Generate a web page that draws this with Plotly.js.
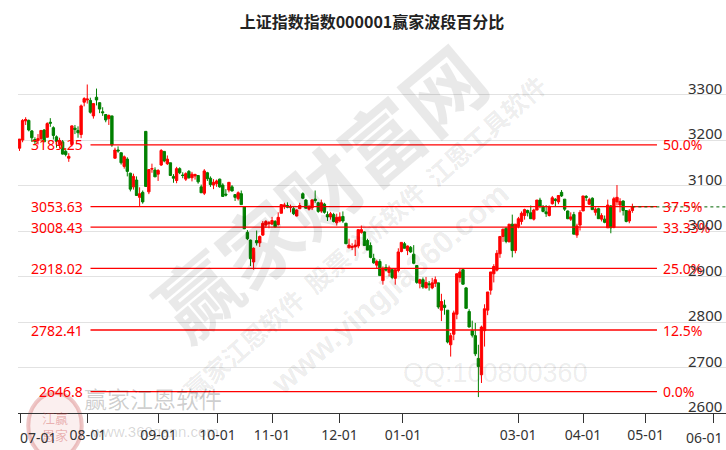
<!DOCTYPE html>
<html>
<head>
<meta charset="utf-8">
<script src="https://cdn.plot.ly/plotly-3.0.1.min.js"></script>
<style>html,body{margin:0;padding:0;background:#fff;overflow:hidden;}#wrap{width:726px;height:450px;overflow:hidden;}#chart{width:740px;height:450px;}</style>
</head>
<body>
<div id="wrap"><div id="chart"></div></div>
<script>
// 上证指数 000001 daily candles (2023-06-30 .. 2024-04-25), one entry per trading day
const openP = [3182,3200,3242,3243,3220,3201,3199,3203,3222,3206,3239,3227,3207,3190,3196,3175,3160,3190,3226,3221,3212,3283,
3288,3287,3253,3294,3282,3262,3256,3247,3253,3160,3178,3172,3142,3158,3127,3097,3112,3074,3085,3219,3086,3136,3134,
3125,3145,3175,3148,3150,3120,3111,3137,3123,3114,3131,3117,3121,3122,3097,3083,3128,3116,3101,3104,
3114,3101,3081,3090,3097,3080,3071,3082,3053,2997,2980,2932,2979,2974,2991,3013,3016,
3015,3021,3014,3039,3055,3056,3052,3049,3033,3049,3082,3068,3048,3051,3070,3062,3044,3059,3036,3031,3036,3018,
3022,3032,3017,2963,2964,2965,2967,2997,2998,2979,2968,2940,2925,2933,2891,2920,2909,2915,2896,2913,2955,
2972,2957,2964,2949,2924,2885,2893,2875,2884,2875,2885,2886,2826,2837,2826,2750,2773,2817,2898,2915,2875,2823,
2781,2770,2720,2684,2781,2826,2870,2906,2914,2950,2988,3006,2976,3015,2957,
3010,3021,3034,3045,3040,3026,3046,3068,3054,3042,3034,3060,3070,3064,3085,3070,3044,3026,3036,2991,3013,
3044,3076,3059,3072,3041,3049,3026,3026,3007,3055,3008,3064,3057,3066,3045,3022,3045];
const highP = [3202,3246,3250,3245,3222,3206,3213,3221,3224,3239,3248,3230,3210,3205,3200,3182,3171,3232,3233,3230,3278,3294,
3322,3293,3281,3313,3283,3272,3257,3256,3253,3183,3186,3172,3166,3162,3128,3126,3120,3096,3089,3219,3135,3148,3140,
3136,3180,3175,3166,3150,3125,3141,3140,3129,3129,3134,3130,3126,3123,3102,3136,3130,3120,3114,3113,
3115,3105,3092,3107,3101,3080,3087,3089,3054,3002,2981,2964,3001,2990,3022,3024,3022,
3031,3024,3041,3059,3062,3063,3058,3053,3048,3062,3085,3070,3057,3070,3089,3064,3069,3062,3043,3042,3040,3038,
3041,3043,3018,2983,2973,2981,3004,3012,2999,2983,2975,2950,2937,2938,2922,2927,2924,2917,2916,2962,2975,
2976,2968,2967,2969,2924,2895,2898,2899,2890,2897,2900,2886,2862,2849,2826,2776,2825,2906,2917,2918,2877,2828,
2803,2798,2750,2792,2839,2866,2910,2927,2958,2988,3005,3009,3015,3036,3015,
3031,3043,3049,3047,3056,3049,3068,3073,3057,3057,3056,3077,3072,3079,3090,3070,3045,3041,3042,3016,3046,
3077,3079,3073,3074,3052,3051,3039,3034,3069,3057,3075,3101,3072,3067,3046,3048,3060];
const lowP = [3176,3195,3233,3219,3196,3189,3190,3198,3196,3206,3229,3201,3183,3182,3168,3164,3152,3186,3213,3205,3204,3274,
3280,3258,3247,3276,3259,3253,3239,3233,3185,3159,3172,3146,3137,3120,3087,3091,3078,3055,3060,3098,3081,3128,3119,
3110,3143,3151,3145,3122,3106,3105,3125,3116,3110,3115,3109,3113,3104,3084,3079,3110,3097,3092,3097,
3095,3075,3076,3085,3087,3066,3067,3058,3004,2980,2923,2915,2968,2965,2989,3007,3006,
3015,3008,3012,3039,3048,3050,3041,3035,3032,3048,3070,3050,3045,3046,3062,3040,3040,3038,3022,3025,3019,3012,
3019,3018,2972,2962,2958,2945,2962,2994,2968,2958,2940,2928,2918,2902,2882,2911,2900,2894,2882,2909,2953,
2962,2947,2952,2927,2884,2874,2873,2874,2869,2872,2877,2829,2802,2816,2753,2724,2760,2806,2887,2882,2830,2788,
2766,2725,2635,2666,2746,2815,2860,2887,2911,2941,2976,2973,2976,2942,2951,
3006,3014,3025,3032,3027,3023,3046,3050,3041,3031,3032,3058,3054,3059,3075,3044,3026,3022,2993,2985,3001,
3044,3066,3057,3046,3034,3027,3021,3017,3007,2995,3006,3056,3041,3034,3019,3017,3040];
const closeP = [3202,3243,3245,3222,3205,3197,3203,3221,3196,3236,3237,3210,3197,3199,3169,3168,3164,3231,3223,3216,3275,3291,
3290,3261,3280,3288,3268,3260,3244,3254,3189,3178,3176,3150,3163,3131,3092,3120,3078,3082,3064,3098,3135,3137,3119,
3133,3177,3154,3158,3122,3116,3137,3128,3122,3126,3117,3125,3124,3108,3084,3132,3115,3102,3107,3110,
3097,3076,3079,3107,3088,3074,3084,3058,3005,2983,2939,2962,2974,2988,3017,3021,3018,
3023,3009,3030,3058,3057,3052,3053,3038,3046,3056,3072,3050,3054,3068,3067,3043,3062,3041,3031,3038,3021,3030,
3031,3022,2972,2969,2966,2969,3003,3003,2968,2958,2942,2930,2933,2902,2918,2914,2919,2898,2915,2954,2975,
2962,2967,2954,2929,2887,2893,2877,2887,2882,2886,2893,2833,2845,2832,2756,2770,2820,2906,2910,2883,2830,2789,
2771,2730,2702,2789,2829,2866,2910,2922,2951,2988,3004,2977,3015,2957,3015,
3027,3039,3047,3040,3027,3046,3068,3055,3043,3038,3054,3073,3067,3078,3077,3048,3027,3031,2993,3011,3041,
3077,3074,3069,3047,3048,3027,3034,3019,3057,3007,3071,3074,3065,3045,3021,3044,3053];

// month tick labels on the trading-day axis
const tickLabels = ['07-01','08-01','09-01','10-01','11-01','12-01','01-01','03-01','04-01','05-01','06-01'];
const tickPos = [0.2,22.2,45.1,64.3,82,103.9,124.5,161.9,183,203.3,225.5];

// wave percentage levels
const fibPrices = [3189.25,3053.63,3008.43,2918.02,2782.41,2646.8];
const fibLabels = ['50.0%','37.5%','33.33%','25.0%','12.5%','0.0%'];

// y axis ticks (gridlines) and the labels shown
const yTicks = [2600,2700,2800,2900,3000,3100,3200,3300,3400];
const yLabelVals = [2600,2700,2800,2900,3000,3100,3200,3300];

const xIdx = closeP.map((_, i) => i);
const lastIdx = xIdx[xIdx.length - 1];
const lastClose = closeP[closeP.length - 1];
const xMax = 229.4;

const NARROW = 'Noto Sans, Liberation Sans, sans-serif';
const CJK = 'Noto Sans CJK SC, sans-serif';
const TICKFONT = {family:NARROW, size:14, color:'#333', stretch:'condensed'};

const trace = {
  type: 'candlestick',
  x: xIdx, open: openP, high: highP, low: lowP, close: closeP,
  increasing: {line: {color: '#ff0000', width: 1}, fillcolor: '#ff0000'},
  decreasing: {line: {color: '#008000', width: 1}, fillcolor: '#008000'},
  whiskerwidth: 0,
  hoverinfo: 'skip',
  showlegend: false
};

const shapes = [];
const annotations = [];

// watermarks
const wm = 'rgba(0,0,0,0.085)';
function wmText(x, y, text, angle, family, size, color) {
  annotations.push({xref:'paper', yref:'paper', x:x, y:y, xanchor:'center', yanchor:'middle',
    text:text, showarrow:false, textangle:angle, font:{family:family, size:size, color:color}});
}
wmText(0.424, 0.613, '<b>赢家财富网</b>', -40, CJK, 80, wm);
wmText(0.489, 0.484, '<b>赢家江恩软件  股票分析软件  江恩工具软件</b>', -41.5, CJK, 25, wm);
wmText(0.525, 0.343, '<b>www.yingjia360.com</b>', -41, 'Liberation Sans, sans-serif', 31, wm);
wmText(0.674, 0.11, 'QQ:100800360', 0, 'Liberation Sans, sans-serif', 27, wm);
wmText(0.19, 0.04, '赢家江恩软件', 0, CJK, 23, 'rgba(0,0,0,0.2)');
wmText(0.194, -0.052, 'www.360gann.com', 0, 'Liberation Sans, sans-serif', 15, 'rgba(0,0,0,0.17)');
shapes.push({type:'circle', xref:'paper', yref:'paper', x0:0.0145, x1:0.09, y0:-0.125, y1:0.055,
  line:{color:'rgba(200,70,70,0.3)', width:4}, fillcolor:'rgba(230,150,150,0.15)', layer:'below'});
wmText(0.052, -0.035, '江赢<br>恩家', 0, CJK, 13, 'rgba(200,60,60,0.35)');

// wave level lines and labels
fibPrices.forEach((p, i) => {
  shapes.push({type:'line', xref:'paper', yref:'y', x0:0.1024, x1:0.9025, y0:p, y1:p,
    line:{color:'#ff0000', width:1.3}});
  annotations.push({xref:'paper', yref:'y', x:0.0946, y:p, xanchor:'right', yanchor:'middle',
    text:String(p), showarrow:false, font:{family:NARROW, size:14, color:'#ff0000', stretch:'condensed'}});
  annotations.push({xref:'paper', yref:'y', x:0.908, y:p, xanchor:'left', yanchor:'middle',
    text:fibLabels[i], showarrow:false, font:{family:NARROW, size:14, color:'#ff0000', stretch:'condensed'}});
});

// price labels sitting just above their gridlines, right-aligned
yLabelVals.forEach(v => {
  annotations.push({xref:'paper', yref:'y', x:1, y:v, xanchor:'right', yanchor:'middle', yshift:7, xshift:-2,
    text:String(v), showarrow:false, font:{family:NARROW, size:15, color:'#333', stretch:'condensed'}});
});

// edge month labels are pushed inside the chart (first left-aligned, last right-aligned)
const nT = tickLabels.length;
const tickTextShown = tickLabels.map((t, i) => (i === 0 || i === nT - 1) ? '' : t);
annotations.push({xref:'x', yref:'paper', x:tickPos[0], y:0, xanchor:'left', yanchor:'middle', xshift:-2, yshift:-24,
  text:tickLabels[0], showarrow:false, font:TICKFONT});
annotations.push({xref:'x', yref:'paper', x:tickPos[nT - 1], y:0, xanchor:'right', yanchor:'middle', xshift:11, yshift:-24,
  text:tickLabels[nT - 1], showarrow:false, font:TICKFONT});

// last close dotted line
shapes.push({type:'line', xref:'x', yref:'y', x0:lastIdx, x1:xMax, y0:lastClose, y1:lastClose,
  line:{color:'#006400', width:1, dash:'dot'}});

const layout = {
  width: 740, height: 450,
  margin: {l:18, r:14, t:49, b:37, pad:0},
  paper_bgcolor: '#ffffff', plot_bgcolor: '#ffffff',
  title: {text:'上证指数指数000001赢家波段百分比', x:0.5, xref:'paper', xanchor:'center',
    y:0.951, yref:'container', yanchor:'middle',
    font:{family:CJK, size:16, color:'#222', weight:'bold'}},
  boxgap: 0.15, boxgroupgap: 0.1,
  xaxis: {
    type:'linear', range:[-0.49, xMax], rangeslider:{visible:false},
    showgrid:false, zeroline:false, showline:true, linecolor:'#333', linewidth:1,
    ticks:'outside', ticklen:9, tickwidth:1, tickcolor:'#333', ticklabeloverflow:'allow',
    tickvals: tickPos, ticktext: tickTextShown,
    tickfont:TICKFONT, fixedrange:true
  },
  yaxis: {
    range:[2600, 3400], side:'right', showticklabels:false,
    tickvals: yTicks, ticks:'',
    showgrid:true, gridcolor:'#e2e2e2', gridwidth:1, zeroline:false, showline:false,
    fixedrange:true
  },
  shapes: shapes,
  annotations: annotations,
  showlegend: false
};

Plotly.newPlot('chart', [trace], layout, {displayModeBar:false, staticPlot:true});
</script>
</body>
</html>
